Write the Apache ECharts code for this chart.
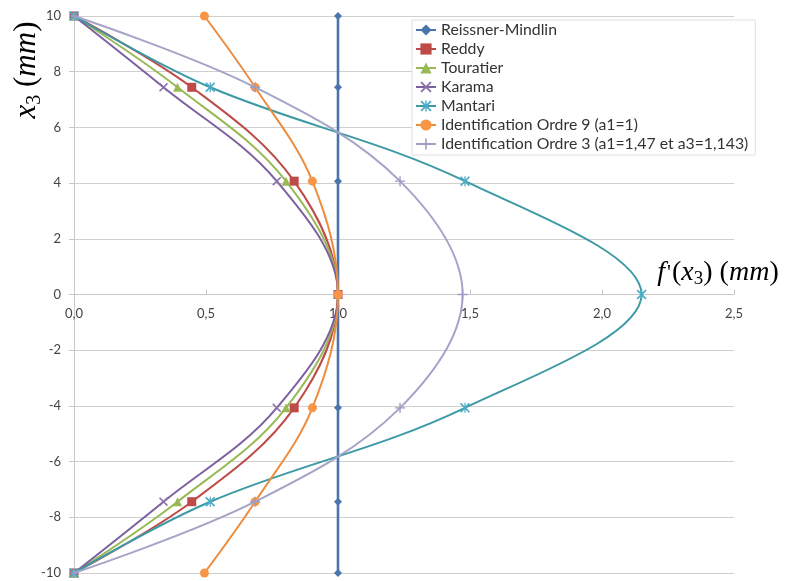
<!DOCTYPE html>
<html>
<head>
<meta charset="utf-8">
<script src="https://cdn.jsdelivr.net/npm/echarts@6/dist/echarts.min.js"></script>
<style>
html,body{margin:0;padding:0;background:#fff;}
#chart{width:791px;height:581px;}
</style>
</head>
<body>
<div id="chart"></div>
<script>
// Positions through the thickness (x3, mm)
var x3 = [10, 7.44, 4.07, 0, -4.07, -7.44, -10];
// f'(x3) values per theory
var reissnerMindlin = [1, 1, 1, 1, 1, 1, 1];
var reddy = [0, 0.446, 0.834, 1, 0.834, 0.446, 0];
var touratier = [0, 0.392, 0.803, 1, 0.803, 0.392, 0];
var karama = [0, 0.339, 0.768, 1, 0.768, 0.339, 0];
var mantari = [0, 0.516, 1.481, 2.150, 1.481, 0.516, 0];
var identOrdre9 = [0.494, 0.686, 0.903, 1, 0.903, 0.686, 0.494];
var identOrdre3 = [0, 0.686, 1.235, 1.472, 1.235, 0.686, 0];

var seriesNames = ['Reissner-Mindlin', 'Reddy', 'Touratier', 'Karama', 'Mantari',
  'Identification Ordre 9 (a1=1)', 'Identification Ordre 3 (a1=1,47 et a3=1,143)'];
var seriesValues = [reissnerMindlin, reddy, touratier, karama, mantari, identOrdre9, identOrdre3];

var X_PATH = 'path://M0,1.2L1.2,0L5,3.8L8.8,0L10,1.2L6.2,5L10,8.8L8.8,10L5,6.2L1.2,10L0,8.8L3.8,5Z';
var PLUS_PATH = 'path://M4.3,0H5.7V4.3H10V5.7H5.7V10H4.3V5.7H0V4.3H4.3Z';
var STAR_PATH = 'path://M0,1.2L1.2,0L5,3.8L8.8,0L10,1.2L6.2,5L10,8.8L8.8,10L5,6.2L1.2,10L0,8.8L3.8,5Z M4.4,0H5.6V10H4.4Z';

var styles = [
  {line: '#4A74AD', mark: '#4A74AD', symbol: 'diamond', size: 8, width: 2.6},
  {line: '#BE4B48', mark: '#BE4B48', symbol: 'rect', size: 9, width: 2},
  {line: '#98B954', mark: '#98B954', symbol: 'triangle', size: 9, width: 2},
  {line: '#7D60A0', mark: '#8A70AA', symbol: X_PATH, size: 9, width: 2},
  {line: '#3C9AA5', mark: '#4BACC6', symbol: STAR_PATH, size: 10, width: 2},
  {line: '#EE8C3E', mark: '#F79646', symbol: 'circle', size: 9, width: 2},
  {line: '#A4A4C8', mark: '#9C9CC4', symbol: PLUS_PATH, size: 10, width: 2}
];

var series = seriesValues.map(function (vals, i) {
  var st = styles[i];
  return {
    name: seriesNames[i],
    type: 'line',
    smooth: 0.36,
    data: vals.map(function (v, k) { return [v, x3[k]]; }),
    symbol: st.symbol,
    symbolSize: st.size,
    showAllSymbol: true,
    clip: false,
    lineStyle: {color: st.line, width: st.width},
    itemStyle: {color: st.mark},
    emphasis: {disabled: true},
    z: 2 + i
  };
});

var chart = echarts.init(document.getElementById('chart'), null, {renderer: 'canvas'});
var labelFont = 'Lato, "Open Sans", sans-serif';
var GRID_H = 557;
chart.setOption({
  animation: false,
  backgroundColor: '#ffffff',
  grid: {left: 74, right: 57, top: 16, bottom: 8, containLabel: false},
  xAxis: {
    type: 'value', min: 0, max: 2.5, interval: 0.5,
    position: 'bottom',
    offset: -GRID_H / 2,
    axisLine: {show: true, onZero: false, lineStyle: {color: '#C8C8C8', width: 1}},
    axisTick: {show: true, inside: true, length: 5, lineStyle: {color: '#C8C8C8'}},
    splitLine: {show: false},
    axisLabel: {
      margin: 13, color: '#444444', fontSize: 13, fontFamily: labelFont,
      formatter: function (v) { return v.toFixed(1).replace('.', ','); }
    }
  },
  yAxis: {
    type: 'value', min: -10, max: 10, interval: 2,
    axisLine: {show: true, onZero: false, lineStyle: {color: '#C8C8C8', width: 1}},
    axisTick: {show: true, length: 5, lineStyle: {color: '#C8C8C8'}},
    splitLine: {show: true, lineStyle: {color: '#D0D0D0', width: 1}},
    axisLabel: {margin: 13, color: '#444444', fontSize: 13, fontFamily: labelFont}
  },
  legend: {
    orient: 'vertical',
    left: 412, top: 20,
    padding: [2, 7, 3, 3],
    itemGap: 3,
    itemWidth: 20,
    itemHeight: 14,
    backgroundColor: '#ffffff',
    borderColor: '#E0E0E0',
    borderWidth: 1,
    borderRadius: 0,
    textStyle: {color: '#333333', fontSize: 15.8, fontFamily: labelFont, lineHeight: 15},
    data: seriesNames
  },
  graphic: [
    {
      type: 'text', x: 27, y: 70, rotation: Math.PI / 2,
      style: {
        text: '{i|x}{s|3}{n| (}{i|mm}{n|)}',
        align: 'center', verticalAlign: 'middle',
        rich: {
          i: {fontFamily: '"Liberation Serif", serif', fontStyle: 'italic', fontSize: 31, lineHeight: 36, fill: '#000'},
          n: {fontFamily: '"Liberation Serif", serif', fontSize: 31, lineHeight: 36, fill: '#000'},
          s: {fontFamily: '"Liberation Serif", serif', fontSize: 20, lineHeight: 22, verticalAlign: 'bottom', fill: '#000'}
        }
      }
    },
    {
      type: 'text', x: 718, y: 273,
      style: {
        text: "{i|f}{p|'}{n|(}{i|x}{s|3}{n|) (}{i|mm}{n|)}",
        align: 'center', verticalAlign: 'middle',
        rich: {
          i: {fontFamily: '"Liberation Serif", serif', fontStyle: 'italic', fontSize: 28, lineHeight: 32, fill: '#000'},
          p: {fontFamily: '"Liberation Serif", serif', fontSize: 22, lineHeight: 32, padding: [0, 1, 0, 2], fill: '#000'},
          n: {fontFamily: '"Liberation Serif", serif', fontSize: 28, lineHeight: 32, fill: '#000'},
          s: {fontFamily: '"Liberation Serif", serif', fontSize: 19, lineHeight: 20, verticalAlign: 'bottom', fill: '#000'}
        }
      }
    }
  ],
  series: series
});
</script>
</body>
</html>
